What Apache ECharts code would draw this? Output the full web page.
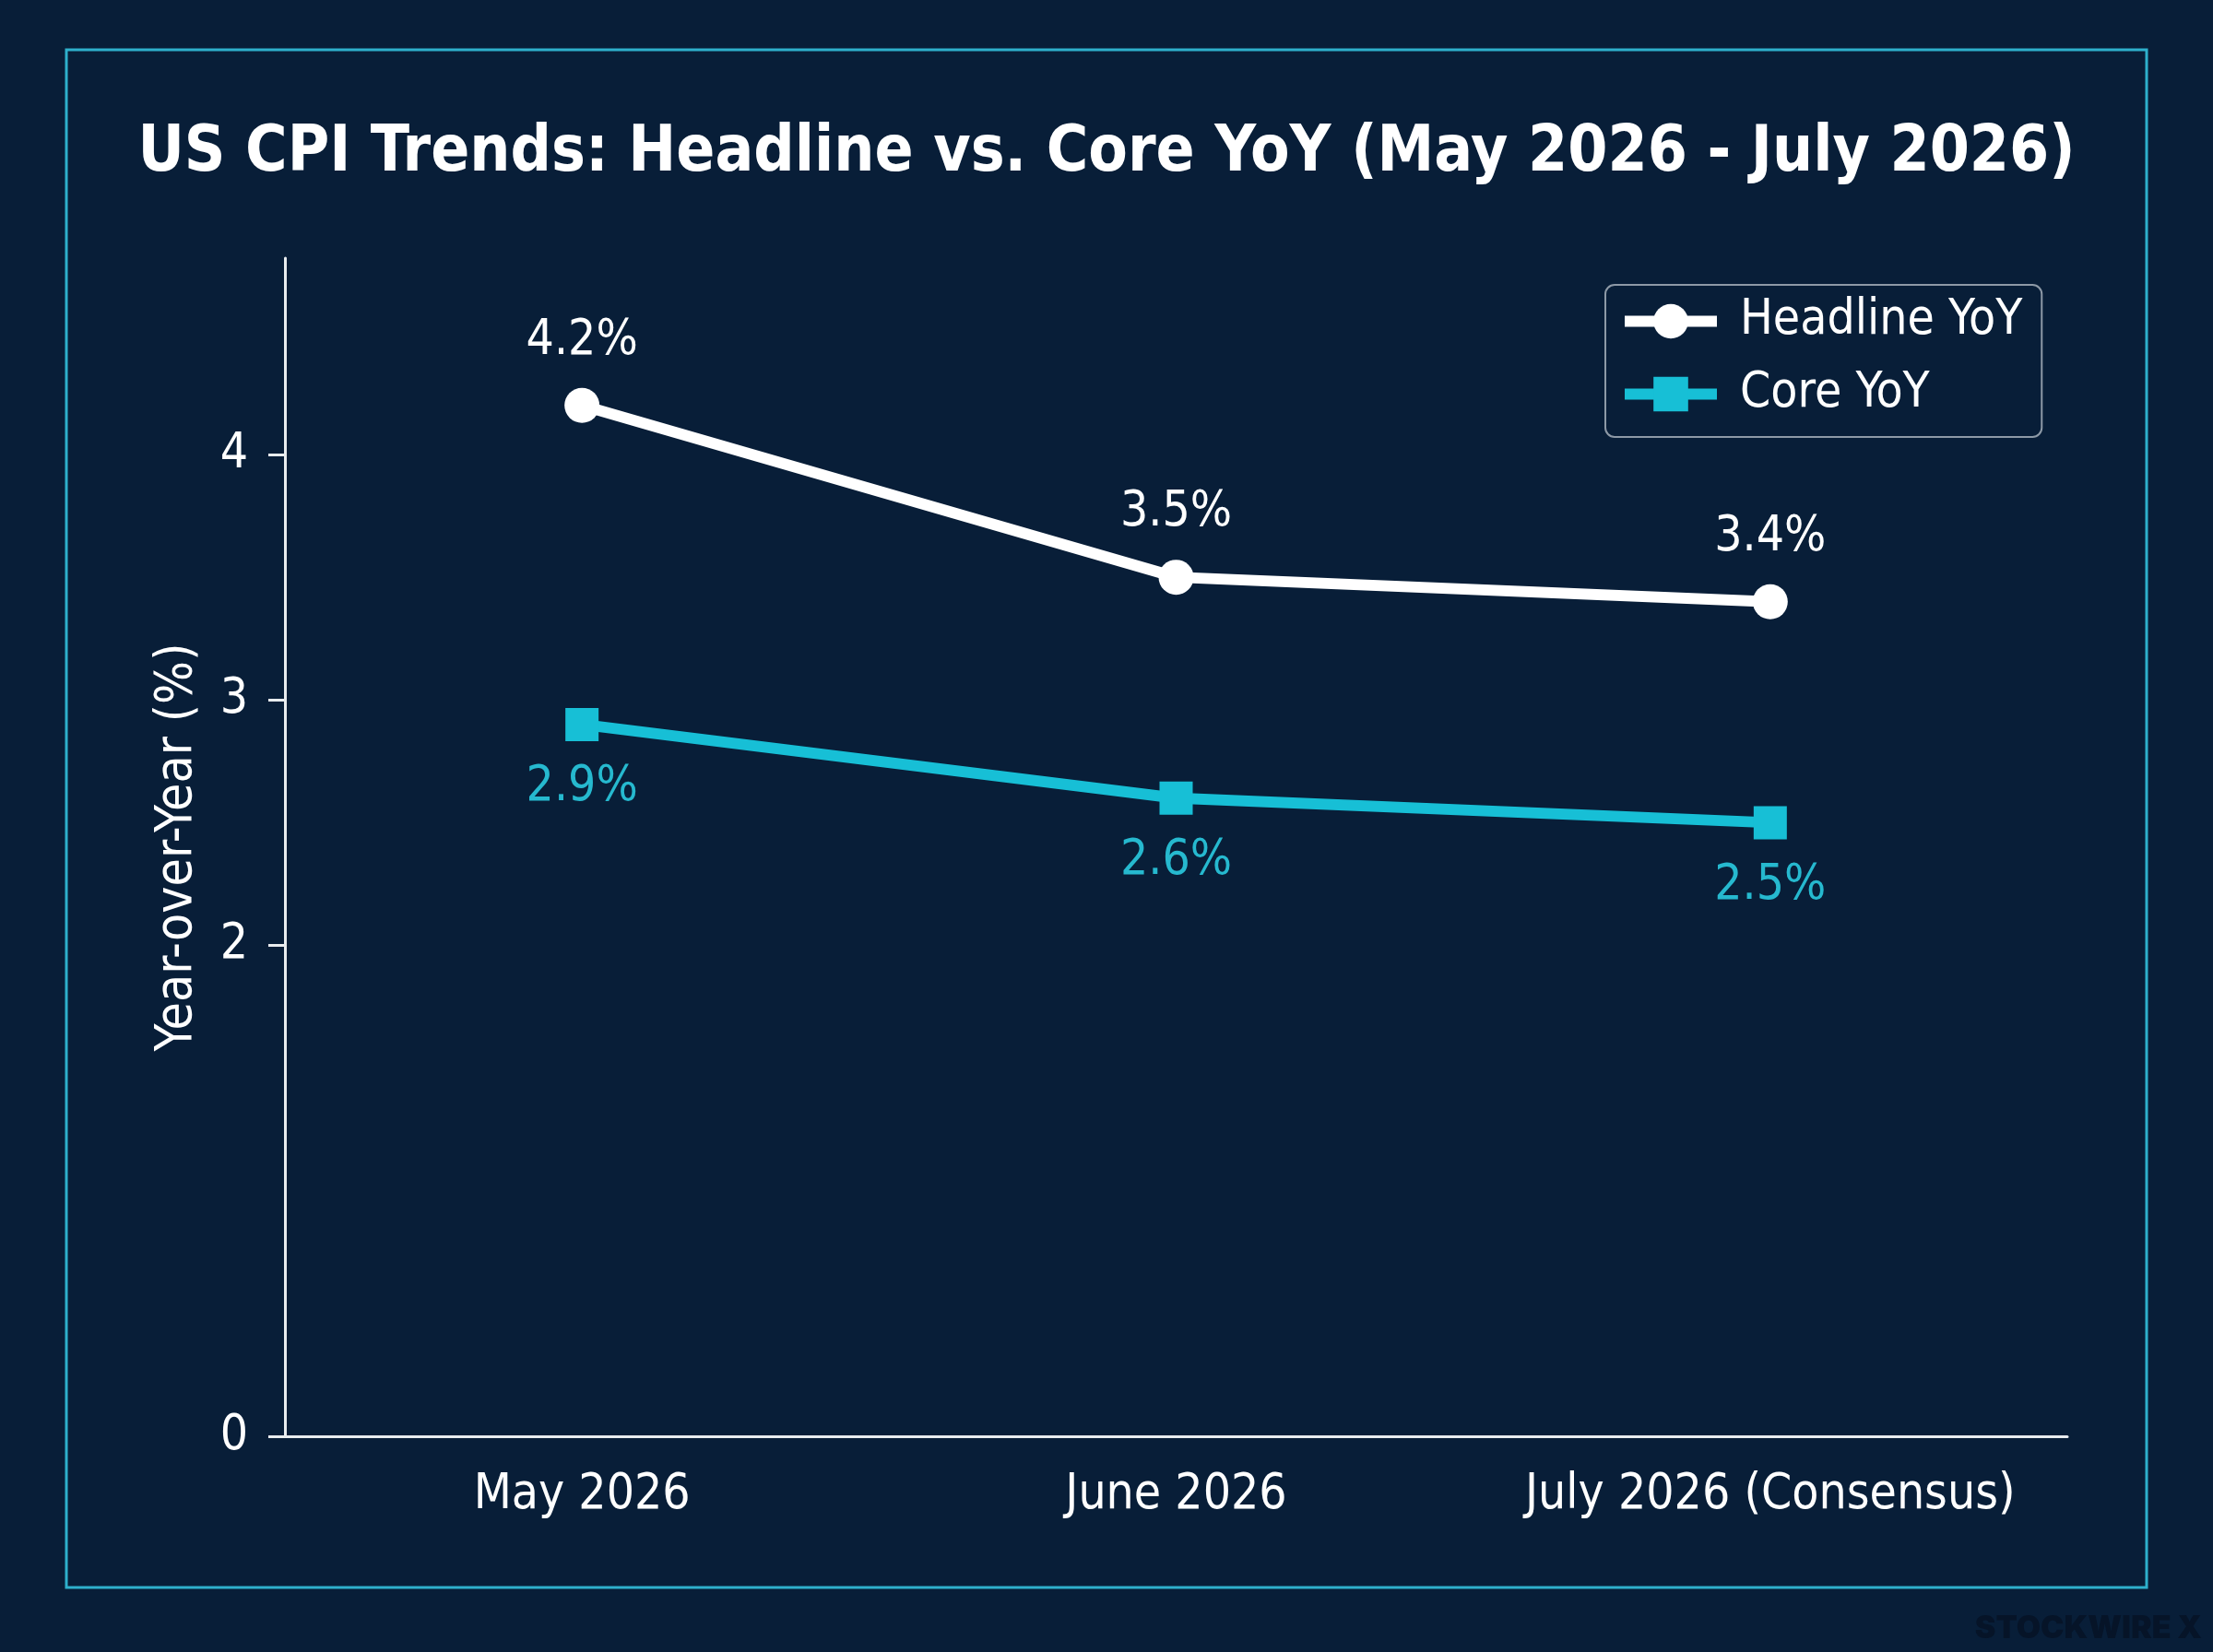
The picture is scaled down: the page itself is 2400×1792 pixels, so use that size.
<!DOCTYPE html>
<html>
<head>
<meta charset="utf-8">
<title>US CPI Trends</title>
<script src="https://cdn.jsdelivr.net/npm/echarts@6/dist/echarts.min.js"></script>
<style>
  html, body { margin: 0; padding: 0; background: #081e38; }
  #chart { width: 2400px; height: 1792px; }
</style>
</head>
<body>
<div id="chart"></div>
<script>
var months = ['May 2026', 'June 2026', 'July 2026 (Consensus)'];
var headline = [4.2, 3.5, 3.4];
var core = [2.9, 2.6, 2.5];
var yTicks = [0, 2, 3, 4];

var FONT = "'DejaVu Sans Condensed', 'DejaVu Sans', sans-serif";
var BG = '#081e38';
var CYAN = '#17bfd6';

var dom = document.getElementById('chart');
var myChart = echarts.init(dom);

option = {
    backgroundColor: BG,
    textStyle: { fontFamily: FONT },
    title: {
        text: 'US CPI Trends: Headline vs. Core YoY (May 2026 - July 2026)',
        left: 'center',
        top: 133,
        padding: 0,
        textStyle: { color: '#ffffff', fontSize: 69, fontWeight: 'bold', fontFamily: FONT }
    },
    // outer frame + watermark
    graphic: [
        {
            type: 'rect',
            shape: { x: 72, y: 54, width: 2256, height: 1668 },
            style: { fill: 'none', stroke: '#2eb0cc', lineWidth: 3 },
            silent: true
        },
        {
            type: 'text',
            right: 12,
            bottom: 8,
            style: { text: 'STOCKWIRE X', fill: '#061428', fontSize: 34, fontWeight: 900, fontFamily: 'Inter, sans-serif' },
            silent: true
        }
    ],
    legend: {
        orient: 'vertical',
        left: 1741,
        top: 309,
        padding: [13, 21, 20, 15],
        itemWidth: 100,
        itemHeight: 47,
        itemGap: 26,
        backgroundColor: BG,
        borderColor: '#8d99a6',
        borderWidth: 2,
        borderRadius: 10,
        lineStyle: { width: 12 },
        textStyle: { color: '#ffffff', fontSize: 53, fontFamily: FONT, padding: [0, 0, 0, 20] },
        data: ['Headline YoY', 'Core YoY']
    },
    grid: {
        left: 309,
        right: 158,
        top: 280,
        bottom: 234
    },
    xAxis: {
        type: 'category',
        data: months,
        axisLine: { lineStyle: { color: '#e8ecef', width: 3 } },
        axisTick: { alignWithLabel: true, length: 18, lineStyle: { color: '#e8ecef', width: 3 } },
        axisLabel: { interval: 0, color: '#ffffff', fontSize: 53, margin: 38, fontFamily: FONT },
        splitLine: { show: false }
    },
    yAxis: {
        type: 'value',
        min: 0,
        max: 4.8,
        name: 'Year-over-Year (%)',
        nameLocation: 'middle',
        nameRotate: 90,
        nameGap: 89,
        nameTextStyle: { color: '#ffffff', fontSize: 55, fontFamily: FONT },
        axisLine: { show: true, lineStyle: { color: '#e8ecef', width: 3 } },
        axisTick: { show: true, length: 18, customValues: yTicks, lineStyle: { color: '#e8ecef', width: 3 } },
        axisLabel: { color: '#ffffff', fontSize: 53, margin: 40, customValues: yTicks, fontFamily: FONT },
        splitLine: { show: false }
    },
    series: [
        {
            name: 'Headline YoY',
            type: 'line',
            data: headline,
            symbol: 'circle',
            symbolSize: 38,
            itemStyle: { color: '#ffffff' },
            lineStyle: { color: '#ffffff', width: 12 },
            label: {
                show: true,
                position: 'top',
                distance: 24,
                color: '#ffffff',
                fontSize: 53,
                fontFamily: FONT,
                formatter: function (p) { return p.value.toFixed(1) + '%'; }
            },
            z: 3
        },
        {
            name: 'Core YoY',
            type: 'line',
            data: core,
            symbol: 'rect',
            symbolSize: 36,
            itemStyle: { color: CYAN },
            lineStyle: { color: CYAN, width: 12 },
            label: {
                show: true,
                position: 'bottom',
                distance: 24,
                color: '#26b9cf',
                fontSize: 53,
                fontFamily: FONT,
                formatter: function (p) { return p.value.toFixed(1) + '%'; }
            },
            z: 2
        }
    ]
};
if (option && typeof option === "object") {
    myChart.setOption(option, true);
}
</script>
</body>
</html>
